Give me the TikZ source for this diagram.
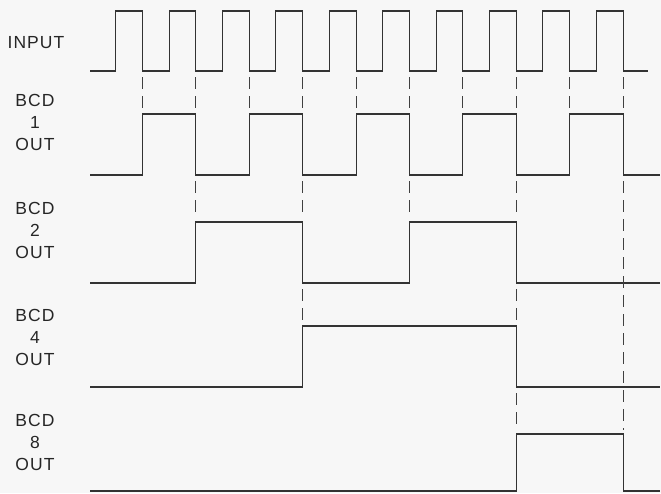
\documentclass[tikz,border=0pt]{standalone}
\usepackage{fontspec}
\setmainfont{Liberation Sans}[LetterSpace=6]

\begin{document}
\begin{tikzpicture}[x=1pt,y=-1pt,
		wave/.style={line width=1.1pt,black!80,line join=miter},
		guide/.style={line width=1.1pt,black!75,dash pattern=on 12pt off 7pt},
		lbl/.style={align=center,inner sep=0pt,text=black!85,font=\fontsize{17.5}{22}\selectfont}]
	
	%--- Rahmen ---
	\fill[black!3] (0,0) rectangle (661,493);
	\useasboundingbox (0,0) rectangle (661,493);
	
	%--- Taktflanken ---
	\def\fo{142.5} % erste fallende Flanke
	\def\T{53.4}   % Periode
	\def\hw{26.8}  % halbe Periode
	\foreach \k in {0,...,9} {
		\coordinate (f\k) at ({\fo+\k*\T},0);
	}
	
	%--- Beschriftungen ---
	\node[lbl] (lblin) at (36,43) {INPUT};
	\node[lbl] (lblone) at (35,122) {BCD\\1\\OUT};
	\node[lbl] (lbltwo) at (35,230) {BCD\\2\\OUT};
	\node[lbl] (lblfour) at (35,337) {BCD\\4\\OUT};
	\node[lbl] (lbleight) at (35,442) {BCD\\8\\OUT};
	
	%--- Eingang ---
	\draw[wave] (90,71) \foreach \k in {0,...,9} {
		-- ({\fo+\k*\T-\hw},71) -- ({\fo+\k*\T-\hw},11)
		-- ({\fo+\k*\T},11) -- ({\fo+\k*\T},71)
	} -- (648,71);
	
	%--- BCD 1 ---
	\draw[wave] (90,175) \foreach \k in {0,2,4,6,8} {
		-- ({\fo+\k*\T},175) -- ({\fo+\k*\T},114)
		-- ({\fo+\k*\T+\T},114) -- ({\fo+\k*\T+\T},175)
	} -- (660,175);
	
	%--- BCD 2 ---
	\draw[wave] (90,283) -- (f1 |- 0,283) -- (f1 |- 0,222) -- (f3 |- 0,222)
		-- (f3 |- 0,283) -- (f5 |- 0,283) -- (f5 |- 0,222) -- (f7 |- 0,222)
		-- (f7 |- 0,283) -- (660,283);
	
	%--- BCD 4 ---
	\draw[wave] (90,387) -- (f3 |- 0,387) -- (f3 |- 0,326) -- (f7 |- 0,326)
		-- (f7 |- 0,387) -- (660,387);
	
	%--- BCD 8 ---
	\draw[wave] (90,491) -- (f7 |- 0,491) -- (f7 |- 0,434) -- (f9 |- 0,434)
		-- (f9 |- 0,491) -- (660,491);
	
	%--- Hilfslinien ---
	\foreach \k in {0,...,9} {
		\draw[guide] (f\k |- 0,77) -- (f\k |- 0,110);
	}
	\foreach \k in {1,3,5,7} {
		\draw[guide] (f\k |- 0,181) -- (f\k |- 0,218);
	}
	\foreach \k in {3,7} {
		\draw[guide] (f\k |- 0,289) -- (f\k |- 0,322);
	}
	\draw[guide] (f7 |- 0,393) -- (f7 |- 0,430);
	\draw[guide] (f9 |- 0,181) -- (f9 |- 0,430);
	
\end{tikzpicture}
\end{document}
